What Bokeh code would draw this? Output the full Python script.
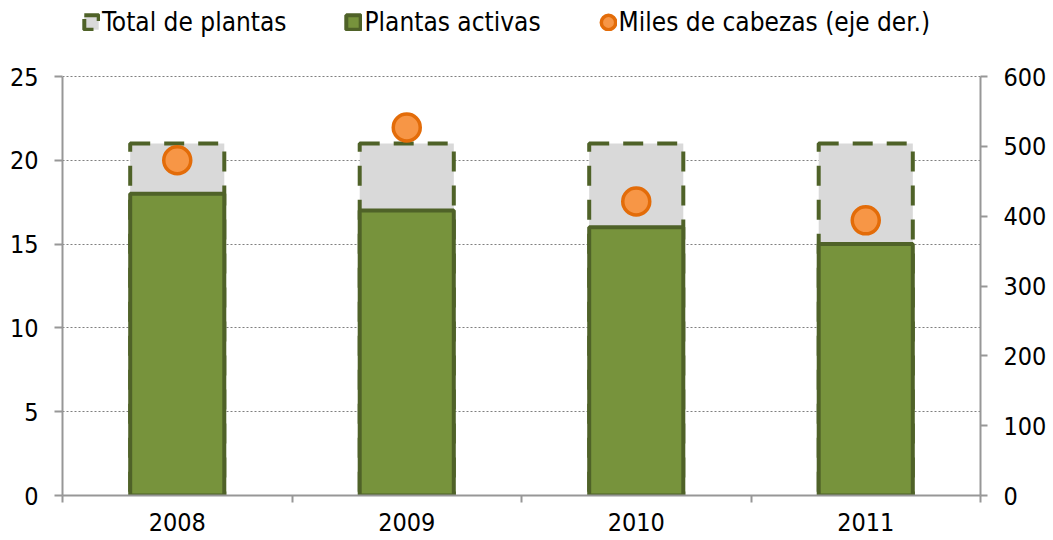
from bokeh.plotting import figure
from bokeh.models import Range1d, LinearAxis, FixedTicker, Legend, LegendItem, ColumnDataSource
from bokeh.embed import file_html
from bokeh.resources import INLINE

years = ["2008", "2009", "2010", "2011"]
total_plantas = [21, 21, 21, 21]
plantas_activas = [18, 17, 16, 15]
miles_cabezas = [480, 527, 421, 394]
left_ticks = [0, 5, 10, 15, 20, 25]
right_ticks = [0, 100, 200, 300, 400, 500, 600]

FONT = "'DejaVu Sans Condensed', 'DejaVu Sans'"
FS = "25px"

# frame spans the full height above the x axis; the y axes stop at their top tick
W, H, PLOT_H, TOP_PAD = 1053, 540, 419, 76
scale = (PLOT_H + TOP_PAD) / PLOT_H
x = [i + 0.5 for i in range(len(years))]
src = ColumnDataSource(dict(x=x, total=total_plantas, activas=plantas_activas, miles=miles_cabezas))

p = figure(width=W, height=H, output_backend="svg", toolbar_location=None,
           x_range=Range1d(0, len(years)), y_range=Range1d(0, left_ticks[-1] * scale),
           min_border_left=62, min_border_right=73, min_border_bottom=45, min_border_top=0)
p.outline_line_color = None
p.background_fill_color = "white"
p.extra_y_ranges = {"right": Range1d(0, right_ticks[-1] * scale)}

GRAY = "#979797"
p.xgrid.grid_line_color = None
p.ygrid.grid_line_color = "#7F7F7F"
p.ygrid.grid_line_dash = "2 2"
p.ygrid.grid_line_width = 1.2

r_total = p.vbar(x="x", top="total", width=0.41, source=src, fill_color="#D9D9D9",
                 line_color="#4F6228", line_width=4, line_dash="20 14")
r_act = p.vbar(x="x", top="activas", width=0.41, source=src, fill_color="#77933C",
               line_color="#4F6228", line_width=4)
r_dot = p.ellipse(x="x", y="miles", source=src, y_range_name="right",
                  width=27, height=27, width_units="screen", height_units="screen",
                  fill_color="#F79646", line_color="#E36C09", line_width=3.5)

xa = p.xaxis[0]
xa.ticker = FixedTicker(ticks=x, minor_ticks=list(range(len(years) + 1)))
xa.major_label_overrides = {v: y for v, y in zip(x, years)}
xa.major_tick_out = 0
xa.major_tick_in = 0
xa.minor_tick_out = 7
xa.minor_tick_in = 0
xa.minor_tick_line_color = GRAY
xa.minor_tick_line_width = 2
xa.axis_line_color = GRAY
xa.axis_line_width = 2
xa.major_label_text_font = FONT
xa.major_label_text_font_size = FS
xa.major_label_text_color = "black"
xa.major_label_standoff = 10

def style_y(ax, tick_out, standoff):
    ax.minor_tick_line_color = None
    ax.major_tick_out = tick_out
    ax.major_tick_in = 0
    ax.major_tick_line_color = GRAY
    ax.major_tick_line_width = 2
    ax.axis_line_color = GRAY
    ax.axis_line_width = 2
    ax.major_label_text_font = FONT
    ax.major_label_text_font_size = FS
    ax.major_label_text_color = "black"
    ax.major_label_standoff = standoff

ya = p.yaxis[0]
ya.ticker = FixedTicker(ticks=left_ticks)
ya.bounds = (left_ticks[0], left_ticks[-1])
style_y(ya, 8, 16)

ra = LinearAxis(y_range_name="right", ticker=FixedTicker(ticks=right_ticks),
                bounds=(right_ticks[0], right_ticks[-1]))
style_y(ra, 7, 16)
p.add_layout(ra, "right")

legend = Legend(items=[LegendItem(label="Total de plantas", renderers=[r_total]),
                       LegendItem(label="Plantas activas", renderers=[r_act]),
                       LegendItem(label="Miles de cabezas (eje der.)", renderers=[r_dot])],
                orientation="horizontal", location=(20, 458),
                label_text_font=FONT, label_text_font_size="26px", label_text_color="black",
                glyph_width=18, glyph_height=18, spacing=58, label_standoff=2,
                border_line_color=None, background_fill_alpha=0,
                padding=0, margin=0)
p.add_layout(legend, "center")

open("out.html", "w").write(file_html(p, INLINE))
